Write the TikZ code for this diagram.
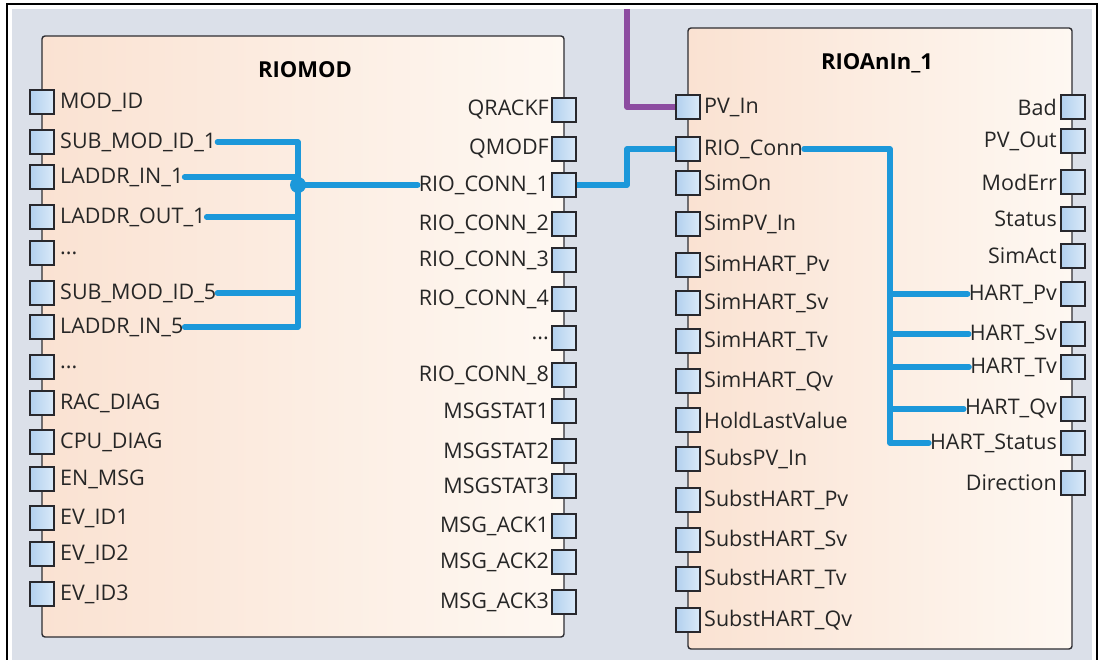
\documentclass[tikz,border=0pt]{standalone}
\usepackage{fontspec}
\setmainfont{Open Sans}
\definecolor{bg}{RGB}{219,224,233}
\definecolor{peach}{RGB}{250,226,210}
\definecolor{cream}{RGB}{254,248,242}
\definecolor{portA}{RGB}{178,208,238}
\definecolor{portB}{RGB}{218,234,249}
\definecolor{portline}{RGB}{40,40,45}
\definecolor{blockline}{RGB}{45,45,50}
\definecolor{wireblue}{RGB}{28,152,218}
\definecolor{purp}{RGB}{140,76,160}
\definecolor{txt}{RGB}{38,38,38}
\newcommand{\mydots}{...}
\begin{document}
\begin{tikzpicture}[x=1pt,y=-1pt,
  port/.style={draw=portline, line width=1.3pt, left color=portA, right color=portB, minimum width=24pt, minimum height=24pt, inner sep=0pt},
  lbl/.style={font=\fontsize{21.5}{24}\selectfont, text=txt, inner sep=1pt},
  title/.style={font=\fontsize{22}{26}\selectfont\bfseries, text=black},
  wire/.style={line width=5.5pt, draw=wireblue, line cap=round, line join=round},
  pwire/.style={line width=5.5pt, draw=purp, line join=round},
  block/.style={draw=blockline, line width=1.4pt, rounded corners=3pt, left color=peach, right color=cream}]
\useasboundingbox (0,0) rectangle (1101,660);
\fill[white] (0,0) rectangle (1101,660);
\fill[bg] (12,9) rectangle (1092,660);
\draw[black, line width=1.3pt] (7,662) -- (7,4) -- (1097,4) -- (1097,662);

% blocks
\path[block] (42,36) rectangle (564,637);
\node[title] (t1) at (305,70) {RIOMOD};
\path[block] (688,28) rectangle (1072,649);
\node[title] (t2) at (877,63) {RIOAnIn\_1};

% RIOMOD left ports
\foreach \n/\t/\y in {la1/MOD\_ID/102, la2/SUB\_MOD\_ID\_1/142, la3/LADDR\_IN\_1/177, la4/LADDR\_OUT\_1/217, la5/\mydots/253, la6/SUB\_MOD\_ID\_5/293, la7/LADDR\_IN\_5/327, la8/\mydots/367, la9/RAC\_DIAG/403, la10/CPU\_DIAG/442, la11/EN\_MSG/479, la12/EV\_ID1/518, la13/EV\_ID2/554, la14/EV\_ID3/594}{
  \node[port] (\n) at (42,\y) {};
  \node[lbl, anchor=west] (\n t) at (59,\y) {\t};
}
% RIOMOD right ports
\foreach \n/\t/\y in {ra1/QRACKF/110, ra2/QMODF/149, ra3/RIO\_CONN\_1/185, ra4/RIO\_CONN\_2/224, ra5/RIO\_CONN\_3/260, ra6/RIO\_CONN\_4/299, ra7/\mydots/338, ra8/RIO\_CONN\_8/375, ra9/MSGSTAT1/411, ra10/MSGSTAT2/451, ra11/MSGSTAT3/486, ra12/MSG\_ACK1/526, ra13/MSG\_ACK2/562, ra14/MSG\_ACK3/602}{
  \node[port] (\n) at (564,\y) {};
  \node[lbl, anchor=east] (\n t) at (550,\y) {\t};
}
% RIOAnIn left ports
\foreach \n/\t/\y in {lb1/PV\_In/107, lb2/RIO\_Conn/149, lb3/SimOn/183, lb4/SimPV\_In/224, lb5/SimHART\_Pv/265, lb6/SimHART\_Sv/303, lb7/SimHART\_Tv/341, lb8/SimHART\_Qv/381, lb9/HoldLastValue/420, lb10/SubsPV\_In/459, lb11/SubstHART\_Pv/500, lb12/SubstHART\_Sv/540, lb13/SubstHART\_Tv/579, lb14/SubstHART\_Qv/620}{
  \node[port] (\n) at (688,\y) {};
  \node[lbl, anchor=west] (\n t) at (703,\y) {\t};
}
% RIOAnIn right ports
\foreach \n/\t/\y in {rb1/Bad/107, rb2/PV\_Out/141, rb3/ModErr/182, rb4/Status/219, rb5/SimAct/256, rb6/HART\_Pv/294, rb7/HART\_Sv/334, rb8/HART\_Tv/367, rb9/HART\_Qv/409, rb10/HART\_Status/443, rb11/Direction/483}{
  \node[port] (\n) at (1073,\y) {};
  \node[lbl, anchor=east] (\n t) at (1058,\y) {\t};
}

% internal bus in RIOMOD
\coordinate (J) at (298,185);
\draw[wire] (la2t.east) -| (J |- la7t.east) -- (la7t.east);
\draw[wire] (la3t.east) -- (la3t.east -| J);
\draw[wire] (la4t.east) -- (la4t.east -| J);
\draw[wire] (la6t.east) -- (la6t.east -| J);
\draw[wire] (J) -- (ra3t.west);
\fill[wireblue] (J) circle (8pt);

% RIO_CONN_1 -> RIO_Conn
\coordinate (K) at (627,0);
\draw[wire, line cap=butt] (ra3.east) -| (K |- lb2.west) -- (lb2.west);

% purple incoming
\coordinate (P) at (627,9);
\draw[pwire] (P) |- (lb1.west);

% HART bus in RIOAnIn
\coordinate (H) at (890,0);
\draw[wire] (lb2t.east) -| (H |- rb10t.west) -- (rb10t.west);
\draw[wire] (rb6t.west -| H) -- (rb6t.west);
\draw[wire] (rb7t.west -| H) -- (rb7t.west);
\draw[wire] (rb8t.west -| H) -- (rb8t.west);
\draw[wire] (rb9t.west -| H) -- (rb9t.west);
\end{tikzpicture}
\end{document}
